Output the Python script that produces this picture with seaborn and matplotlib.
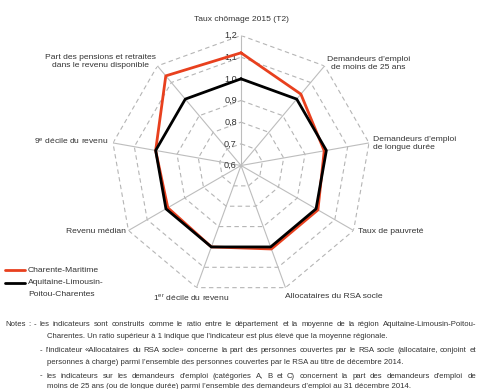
import numpy as np
import pandas as pd
import matplotlib
matplotlib.use("Agg")
import matplotlib.pyplot as plt
import seaborn as sns
from matplotlib.lines import Line2D

# ---- data ----
categories = [
    "Taux chômage 2015 (T2)",
    "Demandeurs d’emploi\nde moins de 25 ans",
    "Demandeurs d’emploi\nde longue durée",
    "Taux de pauvreté",
    "Allocataires du RSA socle",
    r"1$^{\mathrm{er}}$ décile du revenu",
    "Revenu médian",
    r"9$^{\mathrm{e}}$ décile du revenu",
    "Part des pensions et retraites\ndans le revenu disponible",
]
charente_maritime = [1.12, 1.03, 0.99, 1.01, 1.01, 1.00, 0.99, 1.00, 1.14]
region_alpc = [1.0, 1.0, 1.0, 1.0, 1.0, 1.0, 1.0, 1.0, 1.0]
series_names = ["Charente-Maritime", "Aquitaine-Limousin-Poitou-Charentes"]
legend_lines = [["Charente-Maritime"], ["Aquitaine-Limousin-", "Poitou-Charentes"]]
r_ticks = [0.6, 0.7, 0.8, 0.9, 1.0, 1.1, 1.2]
r_tick_labels = ["0,6", "0,7", "0,8", "0,9", "1,0", "1,1", "1,2"]
notes_lines = [
    "Notes : - les indicateurs sont construits comme le ratio entre le département et la moyenne de la région Aquitaine-Limousin-Poitou-",
    "Charentes. Un ratio supérieur à 1 indique que l’indicateur est plus élevé que la moyenne régionale.",
    "- l’indicateur «Allocataires du RSA socle» concerne la part des personnes couvertes par le RSA socle (allocataire, conjoint et",
    "personnes à charge) parmi l’ensemble des personnes couvertes par le RSA au titre de décembre 2014.",
    "- les indicateurs sur les demandeurs d’emploi (catégories A, B et C) concernent la part des demandeurs d’emploi de",
    "moins de 25 ans (ou de longue durée) parmi l’ensemble des demandeurs d’emploi au 31 décembre 2014.",
]
notes_justified = [True, False, True, False, True, False]

# ---- style ----
sns.set_theme(style="white")
FONT = ["Liberation Sans", "DejaVu Sans"]
plt.rcParams["font.family"] = FONT
plt.rcParams["mathtext.fontset"] = "custom"
plt.rcParams["mathtext.rm"] = "Liberation Sans"
plt.rcParams["mathtext.it"] = "Liberation Sans"

RED = "#E8401E"
BLACK = "#000000"
TXT = "#333333"
LAB_FS = 6.1
NOTE_FS = 5.6

n = len(categories)
angles = np.arange(n) * 2 * np.pi / n
ang_closed = np.append(angles, 2 * np.pi)

rows = []
for name, vals in zip(series_names, [charente_maritime, region_alpc]):
    for a, v in zip(ang_closed, list(vals) + [vals[0]]):
        rows.append({"theta": a, "value": v, "serie": name})
df = pd.DataFrame(rows)

W, H = 479, 389
fig = plt.figure(figsize=(W / 100, H / 100), dpi=100)
cx, cy = 241 / W, 1 - 165.5 / H
rw, rh = 130 / W, 130 / H
ax = fig.add_axes([cx - rw, cy - rh, 2 * rw, 2 * rh], polar=True)
ax.set_theta_zero_location("N")
ax.set_theta_direction(-1)
ax.set_ylim(0.6, 1.2)
ax.grid(False)
ax.spines["polar"].set_visible(False)
ax.set_xticks([])
ax.set_yticks([])
ax.set_facecolor("none")

# grid polygons
for r in r_ticks[1:]:
    ax.plot(ang_closed, [r] * (n + 1), color="#B5B5B5", lw=0.8,
            linestyle=(0, (4, 3)), zorder=1)
# spokes
for a in angles:
    ax.plot([a, a], [0.6, 1.2], color="#BDBDBD", lw=0.8, zorder=1)

# radial tick labels
for r, lab in zip(r_ticks, r_tick_labels):
    ax.annotate(lab, xy=(0, r), xytext=(-3, 0), textcoords="offset points",
                ha="right", va="center", fontsize=6.6, color=TXT)

# series
sns.lineplot(data=df, x="theta", y="value", hue="serie", sort=False,
             palette=[RED, BLACK], hue_order=series_names,
             linewidth=2.0, ax=ax, legend=False, zorder=3)

# category labels: (dx, dy in points, ha, va, multialignment)
lab_pos = [
    (0, 9, "center", "bottom", "center"),
    (1.5, 1.5, "left", "center", "center"),
    (3, -0.5, "left", "center", "left"),
    (3.5, -0.7, "left", "center", "left"),
    (0, -3.5, "left", "top", "left"),
    (-3.5, -3.5, "center", "top", "center"),
    (-2, -1, "right", "center", "right"),
    (-3.5, 1.5, "right", "center", "right"),
    (-1, 3.5, "right", "center", "center"),
]
for a, lab, (dx, dy, ha, va, ma) in zip(angles, categories, lab_pos):
    ax.annotate(lab, xy=(a, 1.2), xytext=(dx, dy), textcoords="offset points",
                ha=ha, va=va, multialignment=ma, fontsize=LAB_FS, color=TXT,
                annotation_clip=False)

# legend: handle aligned with the first text line, as in the reference
leg_y = [270, 283]
for color, lines_, y in zip([RED, BLACK], legend_lines, leg_y):
    fig.add_artist(Line2D([5 / W, 25 / W], [1 - y / H, 1 - y / H],
                          color=color, lw=2.0))
    for k, txt in enumerate(lines_):
        fig.text(28 / W, 1 - (y + 12 * k) / H, txt, ha="left", va="center",
                 fontsize=LAB_FS, color=TXT)

# notes (justified where the reference is justified)
fig.canvas.draw()
renderer = fig.canvas.get_renderer()
note_x = [5, 47, 40, 47, 40, 47]
note_y = [325, 337, 351, 362, 376, 387]
right_edge = 476
for line, x, y, just in zip(notes_lines, note_x, note_y, notes_justified):
    if not just:
        fig.text(x / W, 1 - y / H, line, ha="left", va="center",
                 fontsize=NOTE_FS, color=TXT)
        continue
    words = line.split(" ")
    texts = [fig.text(0, 1 - y / H, w_, ha="left", va="center",
                      fontsize=NOTE_FS, color=TXT) for w_ in words]
    widths = [t.get_window_extent(renderer).width for t in texts]
    gap = (right_edge - x - sum(widths)) / (len(words) - 1)
    pos = x
    for t, wd in zip(texts, widths):
        t.set_x(pos / W)
        pos += wd + gap

fig.savefig("out.png", dpi=100)
